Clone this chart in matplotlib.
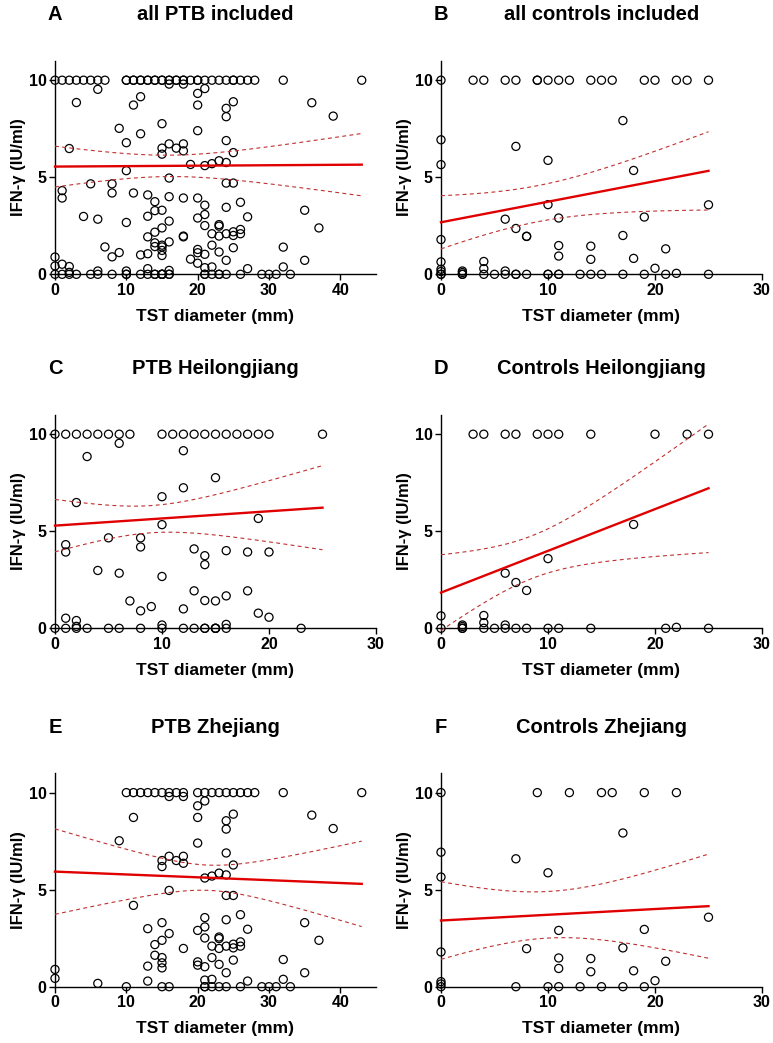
import numpy as np
import matplotlib
matplotlib.use("Agg")
import matplotlib.pyplot as plt

plt.rcParams['font.family'] = ['Liberation Sans', 'DejaVu Sans']
plt.rcParams['font.weight'] = 'bold'

# ---------------- data ----------------
# PTB Heilongjiang (C)
hlj_ptb_x = [0, 1, 2, 3, 4, 5, 6, 7, 10, 11, 12, 13, 14, 15, 16, 17, 18, 19, 20, 25,
             6, 3, 12, 15, 12, 10, 2, 19, 10,
             5, 8, 8, 1, 1, 13, 14, 14, 16, 18, 20,
             4, 6, 10, 13, 18, 16, 7, 14, 15, 9, 8, 12, 19, 20, 1, 2, 10, 16, 2,
             0, 1, 2, 3, 5, 6, 8, 10, 12, 13, 14, 14, 15, 15, 15, 16, 23]
hlj_ptb_y = [10] * 20 + \
            [9.53, 8.85, 9.15, 7.76, 7.24, 6.78, 6.48, 5.66, 5.34,
             4.66, 4.66, 4.19, 4.31, 3.93, 4.09, 3.74, 3.28, 4.0, 3.93, 3.93,
             2.98, 2.84, 2.67, 1.93, 1.93, 1.67, 1.41, 1.43, 1.41, 1.12, 0.9, 1.0, 0.78, 0.57, 0.52, 0.4, 0.17, 0.2, 0.1] + \
            [0] * 17

# PTB Zhejiang (E)
zj_ptb_x = [10, 11, 12, 13, 14, 15, 16, 17, 18, 20, 21, 22, 23, 24, 25, 26, 27, 28, 32, 43,
            16, 18, 21, 20, 11, 20, 25, 24, 24, 36, 39,
            9, 20, 24, 16, 18, 17, 18, 15, 15, 25, 23, 21, 22, 24,
            16, 24, 25, 11, 21, 26, 24, 15, 35, 13, 16, 20, 21, 27, 21, 23, 23, 15, 26, 25, 25, 37,
            14, 18, 22, 23, 24, 26, 14, 15, 15, 15, 22, 25, 32, 20, 20, 13, 21, 23, 24, 35,
            0, 0, 13, 27, 32, 6, 21, 22,
            10, 15, 16, 21, 21, 22, 23, 24, 26, 29, 30, 31, 33]
zj_ptb_y = [10] * 20 + \
           [9.8, 9.8, 9.57, 9.32, 8.72, 8.72, 8.89, 8.55, 8.12, 8.84, 8.15,
            7.52, 7.4, 6.89, 6.72, 6.72, 6.5, 6.36, 6.5, 6.19, 6.27, 5.85, 5.6, 5.7, 5.76,
            4.96, 4.7, 4.7, 4.19, 3.56, 3.71, 3.45, 3.3, 3.3, 2.99, 2.74, 2.9, 3.08, 2.96, 2.51, 2.56, 2.48, 2.39, 2.31, 2.19, 2.0, 2.39,
            2.17, 1.97, 2.09, 1.97, 2.09, 2.09, 1.62, 1.5, 1.23, 0.97, 1.5, 1.37, 1.4, 1.28, 1.11, 1.06, 1.03, 1.15, 0.72, 0.72,
            0.89, 0.43, 0.29, 0.29, 0.38, 0.17, 0.34, 0.38] + \
           [0] * 13

# Controls Heilongjiang (D)
hlj_ctl_x = [3, 4, 6, 7, 9, 10, 11, 14, 20, 23, 25,
             18, 10, 6, 7, 8, 0, 4, 4, 6, 2, 2, 22,
             0, 2, 2, 4, 5, 6, 7, 8, 10, 11, 14, 21, 25]
hlj_ctl_y = [10] * 11 + \
            [5.35, 3.59, 2.84, 2.36, 1.95, 0.64, 0.66, 0.29, 0.17, 0.17, 0.09, 0.05] + \
            [0] * 13

# Controls Zhejiang (F)
zj_ctl_x = [0, 9, 12, 15, 16, 19, 22,
            0, 0, 7, 10, 17, 25, 11, 19, 8, 17, 0, 11, 14, 21, 11, 14, 18, 20, 0, 0,
            0, 7, 10, 11, 13, 15, 17, 19]
zj_ctl_y = [10] * 7 + \
           [6.93, 5.65, 6.59, 5.87, 7.92, 3.58, 2.9, 2.95, 1.96, 2.0, 1.79, 1.48, 1.45, 1.31, 0.94, 0.77, 0.82, 0.31, 0.26, 0.14] + \
           [0] * 8

# pooled groups
ptb_all_x = hlj_ptb_x + zj_ptb_x
ptb_all_y = hlj_ptb_y + zj_ptb_y
ctl_all_x = hlj_ctl_x + zj_ctl_x
ctl_all_y = hlj_ctl_y + zj_ctl_y

# regression lines: intercept, slope, x end, CI half-width at x=0, min CI half-width, x of min
panel_letters = ['A', 'B', 'C', 'D', 'E', 'F']
panel_titles = ['all PTB included', 'all controls included', 'PTB Heilongjiang',
                'Controls Heilongjiang', 'PTB Zhejiang', 'Controls Zhejiang']
fit_intercept = [5.55, 2.68, 5.29, 1.84, 5.93, 3.41]
fit_slope = [0.0023, 0.106, 0.037, 0.215, -0.0147, 0.0296]
fit_xend = [43, 25, 25, 25, 43, 25]
ci_w0 = [1.05, 1.37, 1.35, 1.95, 2.2, 2.0]
ci_wmin = [0.55, 0.93, 0.7, 1.1, 0.65, 1.2]
ci_xm = [16, 9, 9, 8.5, 21.5, 10]
x_max = [45, 30, 30, 30, 45, 30]
x_ticks = [[0, 10, 20, 30, 40], [0, 10, 20, 30], [0, 10, 20, 30],
           [0, 10, 20, 30], [0, 10, 20, 30, 40], [0, 10, 20, 30]]
y_ticks = [0, 5, 10]

xs_list = [ptb_all_x, ctl_all_x, hlj_ptb_x, hlj_ctl_x, zj_ptb_x, zj_ctl_x]
ys_list = [ptb_all_y, ctl_all_y, hlj_ptb_y, hlj_ctl_y, zj_ptb_y, zj_ctl_y]

# ---------------- figure ----------------
W, H = 773, 1043
fig = plt.figure(figsize=(W / 100, H / 100), dpi=100)

col_left = [55, 441]
row_bottom = [274.3, 628.3, 986.7]
row_h = 213.5
ax_w = 321

for i in range(6):
    r, c = divmod(i, 2)
    left = col_left[c] / W
    bottom = 1 - row_bottom[r] / H
    ax = fig.add_axes([left, bottom, ax_w / W, row_h / H])
    ax.set_xlim(0, x_max[i])
    ax.set_ylim(0, 11)
    for s in ['top', 'right']:
        ax.spines[s].set_visible(False)
    for s in ['left', 'bottom']:
        ax.spines[s].set_linewidth(1.0)
    ax.set_xticks(x_ticks[i])
    ax.set_yticks(y_ticks)
    ax.tick_params(length=4, width=1.0, labelsize=11.5, pad=2)
    for lab in ax.get_xticklabels() + ax.get_yticklabels():
        lab.set_fontweight('bold')

    ax.scatter(xs_list[i], ys_list[i], s=34, facecolors='none', edgecolors='black',
               linewidths=0.9, clip_on=False, zorder=3)

    xx = np.linspace(0, fit_xend[i], 200)
    yy = fit_intercept[i] + fit_slope[i] * xx
    w = np.sqrt(ci_wmin[i] ** 2 + (ci_w0[i] ** 2 - ci_wmin[i] ** 2) * ((xx - ci_xm[i]) / ci_xm[i]) ** 2)
    ax.plot(xx, yy, color='#e00000', lw=1.7, zorder=4, clip_on=False)
    ax.plot(xx, yy + w, color='#c03030', lw=0.8, dashes=(3.5, 3), zorder=4, clip_on=False)
    ax.plot(xx, yy - w, color='#c03030', lw=0.8, dashes=(3.5, 3), zorder=4, clip_on=False)

    ax.set_xlabel('TST diameter (mm)', fontsize=12.5, fontweight='bold', labelpad=8)
    ax.set_ylabel('IFN-γ (IU/ml)', fontsize=12, fontweight='bold', labelpad=2)

    top_px = row_bottom[r] - row_h
    ty = 1 - (top_px - 46) / H
    fig.text(left, ty, panel_letters[i], fontsize=14.5, fontweight='bold', ha='center', va='center')
    fig.text(left + ax_w / W / 2, ty, panel_titles[i], fontsize=14.5, fontweight='bold',
             ha='center', va='center')

fig.savefig('out.png', dpi=100)
